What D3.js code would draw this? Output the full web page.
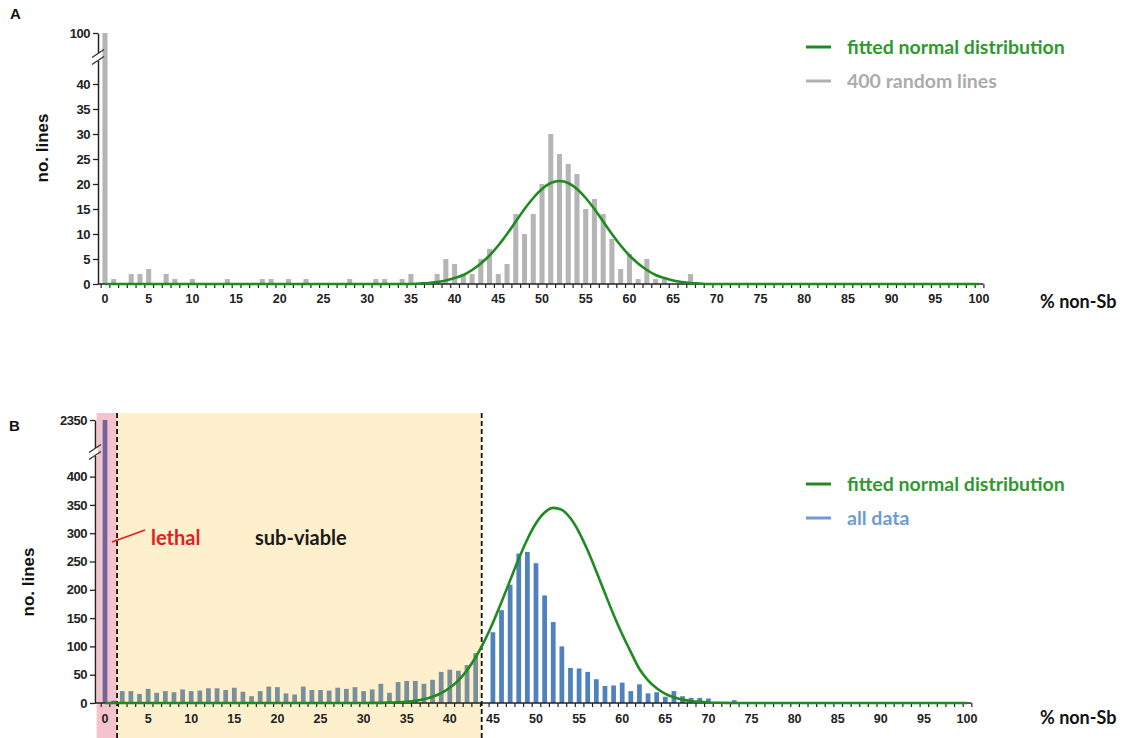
<!DOCTYPE html>
<html>
<head>
<meta charset="utf-8">
<script src="https://cdn.jsdelivr.net/npm/d3@7"></script>
<style>
  body { margin: 0; background: #fff; }
</style>
</head>
<body>
<svg id="chart" width="1124" height="738"></svg>
<script>
// x categories: % non-Sb, 0..100
const pct = d3.range(0, 101);
const xTickValues = d3.range(0, 101, 5);

// panel A: 400 random lines
const randomLines = [
  100, 1, 0, 2, 2, 3, 0, 2, 1, 0,
  1, 0, 0, 0, 1, 0, 0, 0, 1, 1,
  0, 1, 0, 1, 0, 0, 0, 0, 1, 0,
  0, 1, 1, 0, 1, 2, 0, 0, 2, 5,
  4, 2, 2, 5, 7, 2, 4, 14, 10, 14,
  20, 30, 26, 24, 22, 15, 17, 14, 9, 3,
  6, 1, 5, 1, 1, 0, 0, 2, 0, 0,
  0, 0, 0, 0, 0, 0, 0, 0, 0, 0,
  0, 0, 0, 0, 0, 0, 0, 0, 0, 0,
  0, 0, 0, 0, 0, 0, 0, 0, 0, 0,
  0
];
// fitted normal curve for panel A, read at each % value
const fitA = [
  0, 0, 0, 0, 0, 0, 0, 0, 0, 0,
  0, 0, 0, 0, 0, 0, 0, 0, 0, 0,
  0, 0, 0, 0, 0, 0, 0, 0, 0, 0,
  0, 0, 0, 0, 0, 0, 0.1, 0.2, 0.4, 0.7,
  1.2, 1.8, 2.8, 4.1, 5.7, 7.7, 10.0, 12.5, 15.0, 17.2,
  19.0, 20.2, 20.6, 20.2, 19.0, 17.2, 15.0, 12.5, 10.0, 7.7,
  5.7, 4.1, 2.8, 1.8, 1.2, 0.7, 0.4, 0.2, 0.1, 0,
  0, 0, 0, 0, 0, 0, 0, 0, 0, 0,
  0, 0, 0, 0, 0, 0, 0, 0, 0, 0,
  0, 0, 0, 0, 0, 0, 0, 0, 0, 0,
  0
];
const yTicksA = [0, 5, 10, 15, 20, 25, 30, 35, 40, 100];

// panel B: all data
const allData = [
  2350, 4, 21, 21, 16, 25, 18, 21, 19, 24,
  21, 22, 26, 26, 23, 27, 20, 12, 21, 29,
  28, 17, 15, 29, 23, 23, 22, 27, 25, 28,
  21, 24, 34, 18, 37, 39, 39, 34, 41, 55,
  59, 57, 67, 88, 0, 125, 164, 209, 264, 267,
  247, 190, 143, 100, 62, 61, 55, 42, 30, 31,
  36, 21, 33, 17, 19, 11, 21, 12, 9, 9,
  8, 0, 0, 5, 0, 0, 0, 0, 0, 0,
  0, 0, 0, 0, 0, 0, 0, 0, 0, 0,
  0, 0, 0, 0, 0, 0, 0, 0, 0, 0,
  0
];
const fitB = [
  0, 0, 0, 0, 0, 0, 0, 0, 0, 0,
  0, 0, 0, 0, 0, 0, 0, 0, 0, 0,
  0, 0, 0, 0, 0, 0, 0, 0, 0, 0,
  0.1, 0.2, 0.3, 0.6, 1.2, 2.2, 3.8, 6.6, 10.9, 17.4,
  26.9, 40.1, 57.9, 80.8, 108.9, 141.8, 178.5, 216.9, 254.9, 289.4,
  317.5, 336.6, 344.8, 341.2, 326.3, 301.6, 269.3, 232.4, 193.8, 156.1,
  121.5, 90, 60, 40, 26, 16, 10, 6, 3.5, 2,
  1, 0.5, 0.2, 0.1, 0, 0, 0, 0, 0, 0,
  0, 0, 0, 0, 0, 0, 0, 0, 0, 0,
  0, 0, 0, 0, 0, 0, 0, 0, 0, 0,
  0
];
const yTicksB = [0, 50, 100, 150, 200, 250, 300, 350, 400, 2350];

// regions in panel B (in % non-Sb units)
const lethalRange = [-0.5, 1.4];
const subViableRange = [1.4, 43.7];

const GREEN = "#1f8a1f";
const GREEN_TEXT = "#2e9a2e";
const GRAY = "#b5b5b5";
const BLUE = "#4f81bd";
const ARIAL = "Liberation Sans, Arial, sans-serif";
const CALIBRI = "Lato, Open Sans, sans-serif";

const svg = d3.select("#chart");

function drawPanel(cfg) {
  const g = svg.append("g");
  const x = d3.scaleBand().domain(pct).range(cfg.xRange)
    .paddingInner(cfg.pad).paddingOuter(cfg.pad / 2);
  const xm = d3.scaleLinear().domain([-0.5, 100.5]).range(cfg.xRange);
  const y = d3.scaleLinear().domain(cfg.yDomain).range(cfg.yRange);
  const base = y(0);

  // bars
  g.selectAll(".bar")
    .data(cfg.counts.map((v, i) => ({ p: i, v })).filter((d) => d.v > 0))
    .enter()
    .append("rect")
    .attr("x", (d) => x(d.p))
    .attr("width", x.bandwidth())
    .attr("y", (d) => y(d.v))
    .attr("height", (d) => base - y(d.v))
    .attr("fill", cfg.barColor);

  if (cfg.regions) cfg.regions(g, xm, y);

  // minor ticks at band edges
  g.append("g")
    .attr("transform", `translate(0,${base})`)
    .call(d3.axisBottom(xm).tickValues(d3.range(-0.5, 100.6, 1)).tickSize(4).tickFormat(""))
    .call((s) => s.select(".domain").remove())
    .selectAll("line").attr("stroke", "#222").attr("stroke-width", 1.2);

  // x axis line + labels
  g.append("line")
    .attr("x1", cfg.yAxisX).attr("x2", cfg.xRange[1])
    .attr("y1", base).attr("y2", base)
    .attr("stroke", "#222").attr("stroke-width", 1.5);
  g.append("g")
    .attr("transform", `translate(0,${base})`)
    .call(d3.axisBottom(x).tickValues(xTickValues).tickSize(0).tickPadding(cfg.xLabelPad))
    .call((s) => s.select(".domain").remove())
    .selectAll("text")
    .style("font-family", ARIAL)
    .attr("font-weight", "bold").attr("font-size", 12.5).attr("fill", "#222");

  // y axis
  const ya = g.append("g")
    .attr("transform", `translate(${cfg.yAxisX},0)`)
    .call(d3.axisLeft(y).tickValues(cfg.yTicks).tickFormat(d3.format("d"))
      .tickSize(5).tickSizeOuter(0).tickPadding(3));
  ya.select(".domain").attr("stroke", "#222").attr("stroke-width", 1.5);
  ya.selectAll("line").attr("stroke", "#222").attr("stroke-width", 1.3);
  ya.selectAll("text")
    .style("font-family", ARIAL)
    .attr("font-weight", "bold").attr("font-size", 13).attr("fill", "#222")
    .attr("letter-spacing", -0.5);

  // axis break marks
  const bx = cfg.yAxisX, by = cfg.breakY;
  g.append("rect").attr("x", bx - 3).attr("y", by - 4).attr("width", 6).attr("height", 8).attr("fill", "#fff");
  [-3.5, 3.5].forEach((dy) => {
    g.append("line")
      .attr("x1", bx - 6).attr("y1", by + dy + 4)
      .attr("x2", bx + 6).attr("y2", by + dy - 4)
      .attr("stroke", "#333").attr("stroke-width", 1.3);
  });

  // fitted curve
  const line = d3.line()
    .x((d, i) => x(i) + x.bandwidth() / 2)
    .y((d) => y(d))
    .curve(d3.curveMonotoneX);
  g.append("path")
    .datum(cfg.fit)
    .attr("fill", "none")
    .attr("stroke", GREEN)
    .attr("stroke-width", 2.6)
    .attr("d", line);

  // titles
  g.append("text")
    .attr("x", cfg.letter[0]).attr("y", cfg.letter[1])
    .style("font-family", ARIAL)
    .attr("font-weight", "bold").attr("font-size", 15).attr("fill", "#111")
    .text(cfg.letter[2]);
  g.append("text")
    .attr("transform", `translate(${cfg.yTitle[0]},${cfg.yTitle[1]}) rotate(-90)`)
    .attr("text-anchor", "middle").attr("dominant-baseline", "central")
    .style("font-family", ARIAL)
    .attr("font-weight", "bold").attr("font-size", 17).attr("fill", "#111")
    .text("no. lines");
  g.append("text")
    .attr("x", 1040).attr("y", cfg.xTitleY)
    .style("font-family", CALIBRI)
    .attr("font-weight", "bold").attr("font-size", 18).attr("fill", "#111")
    .text("% non-Sb");

  // legend
  const lg = g.append("g").attr("transform", `translate(806,${cfg.legendY})`);
  cfg.legend.forEach((d, i) => {
    lg.append("line")
      .attr("x1", 0).attr("x2", 25).attr("y1", i * 34).attr("y2", i * 34)
      .attr("stroke", d.line).attr("stroke-width", 3);
    lg.append("text")
      .attr("x", 41).attr("y", i * 34).attr("dy", "0.35em")
      .style("font-family", CALIBRI)
      .attr("font-weight", "bold").attr("font-size", 19.5).attr("fill", d.text)
      .text(d.label);
  });
}

drawPanel({
  counts: randomLines,
  fit: fitA,
  xRange: [100.6, 983.4],
  pad: 0.42,
  yDomain: [0, 40, 100],
  yRange: [284, 84, 33],
  yTicks: yTicksA,
  yAxisX: 98,
  breakY: 57,
  barColor: GRAY,
  xLabelPad: 10,
  letter: [10, 19, "A"],
  yTitle: [42, 148],
  xTitleY: 308,
  legendY: 47,
  legend: [
    { label: "fitted normal distribution", line: GREEN, text: GREEN_TEXT },
    { label: "400 random lines", line: "#b0b0b0", text: "#ababab" },
  ],
});

drawPanel({
  counts: allData,
  fit: fitB,
  xRange: [100.7, 971.3],
  pad: 0.45,
  yDomain: [0, 400, 2350],
  yRange: [703, 476.6, 420],
  yTicks: yTicksB,
  yAxisX: 95,
  breakY: 452,
  barColor: BLUE,
  xLabelPad: 11,
  letter: [9, 431, "B"],
  yTitle: [28, 582],
  xTitleY: 724,
  legendY: 484,
  legend: [
    { label: "fitted normal distribution", line: GREEN, text: GREEN_TEXT },
    { label: "all data", line: "#6f9ad6", text: "#6f9ad6" },
  ],
  regions: (g, xm, y) => {
    const top = 413, bottom = 738;
    g.append("rect")
      .attr("x", xm(lethalRange[0]) - 4).attr("y", top)
      .attr("width", xm(lethalRange[1]) - xm(lethalRange[0]) + 4)
      .attr("height", bottom - top)
      .attr("fill", "rgb(216,25,63)").attr("fill-opacity", 0.26);
    g.append("rect")
      .attr("x", xm(subViableRange[0])).attr("y", top)
      .attr("width", xm(subViableRange[1]) - xm(subViableRange[0]))
      .attr("height", bottom - top)
      .attr("fill", "rgb(255,193,45)").attr("fill-opacity", 0.24);
    [lethalRange[1], subViableRange[1]].forEach((v) => {
      g.append("line")
        .attr("x1", xm(v)).attr("x2", xm(v))
        .attr("y1", top).attr("y2", bottom)
        .attr("stroke", "#111").attr("stroke-width", 1.8)
        .attr("stroke-dasharray", "5,3");
    });
    // labels
    g.append("line")
      .attr("x1", 145).attr("y1", 530).attr("x2", 112).attr("y2", 542)
      .attr("stroke", "#e02020").attr("stroke-width", 1.8);
    g.append("text")
      .attr("x", 151).attr("y", 538).attr("dy", "0.35em")
      .style("font-family", CALIBRI)
      .attr("font-weight", "bold").attr("font-size", 20).attr("fill", "#e02020")
      .text("lethal");
    g.append("text")
      .attr("x", 255).attr("y", 538).attr("dy", "0.35em")
      .style("font-family", CALIBRI)
      .attr("font-weight", "bold").attr("font-size", 20).attr("fill", "#1a1a1a")
      .text("sub-viable");
  },
});
</script>
</body>
</html>
